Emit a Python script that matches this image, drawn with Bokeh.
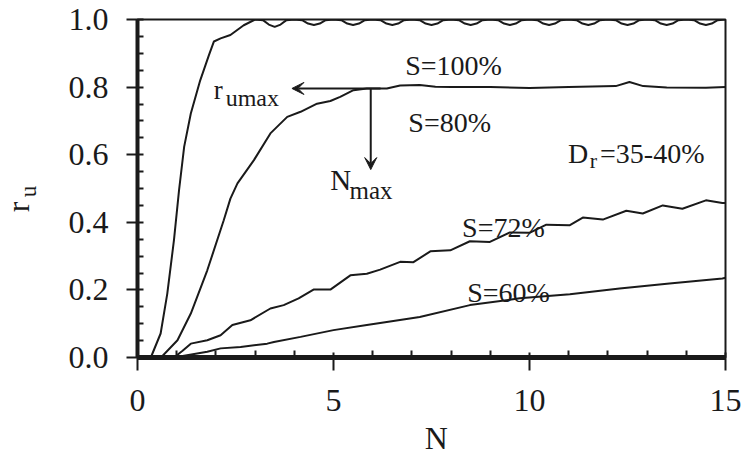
from bokeh.plotting import figure
from bokeh.models import (Range1d, FixedTicker, Label, Arrow, VeeHead,
                          PrintfTickFormatter)
from bokeh.embed import file_html
from bokeh.resources import INLINE

# ---------------- data ----------------
s100_n = [0.0, 0.34, 0.59, 0.76, 0.93, 1.06, 1.19, 1.36, 1.6, 1.82, 1.95, 2.12,
          2.37, 2.71, 3.0,
          3.2, 3.35, 3.5, 3.65, 3.8, 4.0,
          4.2, 4.35, 4.5, 4.65, 4.8, 5.0,
          5.2, 5.35, 5.5, 5.65, 5.8, 6.0,
          6.2, 6.35, 6.5, 6.65, 6.8, 7.0,
          7.2, 7.35, 7.5, 7.65, 7.8, 8.0,
          8.2, 8.35, 8.5, 8.65, 8.8, 9.0,
          9.2, 9.35, 9.5, 9.65, 9.8, 10.0,
          10.2, 10.35, 10.5, 10.65, 10.8, 11.0,
          11.2, 11.35, 11.5, 11.65, 11.8, 12.0,
          12.2, 12.35, 12.5, 12.65, 12.8, 13.0,
          13.2, 13.35, 13.5, 13.65, 13.8, 14.0,
          14.2, 14.35, 14.5, 14.65, 14.8, 15.0]
s100_ru = [0.0, 0.0, 0.071, 0.189, 0.347, 0.495, 0.623, 0.722, 0.82, 0.894,
           0.935, 0.944, 0.954, 0.983, 1.0,
           0.998, 0.985, 0.978, 0.985, 0.998, 1.0,
           0.998, 0.988, 0.984, 0.988, 0.998, 1.0,
           0.998, 0.988, 0.984, 0.988, 0.998, 1.0,
           0.998, 0.988, 0.984, 0.988, 0.998, 1.0,
           0.998, 0.988, 0.984, 0.988, 0.998, 1.0,
           0.998, 0.988, 0.984, 0.988, 0.998, 1.0,
           0.998, 0.988, 0.984, 0.988, 0.998, 1.0,
           0.998, 0.988, 0.984, 0.988, 0.998, 1.0,
           0.998, 0.988, 0.984, 0.988, 0.998, 1.0,
           0.998, 0.988, 0.984, 0.988, 0.998, 1.0,
           0.998, 0.988, 0.984, 0.988, 0.998, 1.0,
           0.998, 0.988, 0.984, 0.988, 0.998, 1.0]

s80_n = [0.0, 0.6, 1.02, 1.36, 1.78, 2.2, 2.37, 2.55, 2.97, 3.39, 3.82, 4.16,
         4.58, 4.92, 5.17, 5.51, 5.85, 6.36, 6.7, 7.2, 7.6, 8.0, 9.0, 10.0,
         11.0, 12.2, 12.55, 12.9, 13.5, 14.5, 15.0]
s80_ru = [0.0, 0.0, 0.051, 0.13, 0.258, 0.406, 0.47, 0.515, 0.584, 0.663,
          0.712, 0.727, 0.751, 0.759, 0.771, 0.791, 0.796, 0.796, 0.805,
          0.806, 0.801, 0.800, 0.800, 0.797, 0.800, 0.803, 0.815, 0.803,
          0.799, 0.798, 0.800]

s72_n = [0.0, 0.93, 1.15, 1.36, 1.78, 2.12, 2.42, 2.88, 3.39, 3.73, 4.11,
         4.49, 4.92, 5.43, 5.85, 6.19, 6.7, 7.04, 7.47, 7.98, 8.48, 8.99,
         9.5, 10.0, 10.43, 11.02, 11.36, 11.87, 12.47, 12.89, 13.4, 13.9,
         14.5, 14.92, 15.0]
s72_ru = [0.0, 0.0, 0.02, 0.041, 0.051, 0.066, 0.096, 0.11, 0.145, 0.155,
          0.175, 0.201, 0.201, 0.243, 0.248, 0.26, 0.283, 0.282, 0.314,
          0.317, 0.344, 0.342, 0.37, 0.369, 0.393, 0.391, 0.414, 0.408,
          0.434, 0.426, 0.45, 0.44, 0.465, 0.457, 0.457]

s60_n = [0.0, 0.93, 1.78, 2.12, 2.63, 3.31, 3.48, 4.16, 5.0, 5.85, 6.19, 7.2,
         8.48, 9.75, 11.03, 12.3, 13.57, 14.92, 15.0]
s60_ru = [0.0, 0.0, 0.017, 0.027, 0.031, 0.041, 0.046, 0.061, 0.081, 0.096,
          0.102, 0.12, 0.155, 0.175, 0.187, 0.204, 0.219, 0.234, 0.236]

x_major = [0, 5, 10, 15]
x_minor = [1, 2, 3, 4, 6, 7, 8, 9, 11, 12, 13, 14]
y_major = [0.0, 0.2, 0.4, 0.6, 0.8, 1.0]
y_minor = [0.05, 0.1, 0.15, 0.25, 0.3, 0.35, 0.45, 0.5, 0.55, 0.65, 0.7,
           0.75, 0.85, 0.9, 0.95]

x_title = "N"
series_labels = ["S=100%", "S=80%", "S=72%", "S=60%"]

# ---------------- figure ----------------
FONT = "Liberation Serif"
INK = "#1a1a1a"

p = figure(width=748, height=454, output_backend="svg", toolbar_location=None,
           x_range=Range1d(0, 15), y_range=Range1d(0, 1),
           min_border_left=137, min_border_right=23, min_border_top=19,
           min_border_bottom=97)
p.grid.visible = False
p.background_fill_color = "white"
p.border_fill_color = "white"
p.outline_line_color = INK
p.outline_line_width = 2
p.outline_line_alpha = 1.0

p.xaxis.ticker = FixedTicker(ticks=x_major, minor_ticks=x_minor)
p.yaxis.ticker = FixedTicker(ticks=y_major, minor_ticks=y_minor)
p.yaxis.formatter = PrintfTickFormatter(format="%.1f")

for ax in (p.xaxis, p.yaxis):
    ax.axis_line_color = INK
    ax.major_tick_line_color = INK
    ax.minor_tick_line_color = INK
    ax.major_tick_line_width = 2
    ax.minor_tick_line_width = 2
    ax.major_label_text_font = FONT
    ax.major_label_text_font_size = "32px"
    ax.major_label_text_color = INK

p.xaxis.axis_line_width = 5
p.xaxis.major_tick_out = 13
p.xaxis.major_tick_in = 5
p.xaxis.minor_tick_in = 7
p.xaxis.minor_tick_out = 0
p.xaxis.major_label_standoff = 19

p.yaxis.axis_line_width = 4
p.yaxis.major_tick_out = 11
p.yaxis.major_tick_in = 6
p.yaxis.minor_tick_in = 6
p.yaxis.minor_tick_out = 0
p.yaxis.major_label_standoff = 18

# curves
for xs, ys in ((s100_n, s100_ru), (s80_n, s80_ru), (s72_n, s72_ru),
               (s60_n, s60_ru)):
    p.line(xs, ys, line_color=INK, line_width=2)

# arrows (r_umax and N_max)
head = dict(size=12, fill_color=INK, line_color=INK, line_width=1)
p.add_layout(Arrow(end=VeeHead(**head), x_start=6.2, y_start=0.796,
                   x_end=3.94, y_end=0.796, line_color=INK, line_width=2))
p.add_layout(Arrow(end=VeeHead(**head), x_start=5.95, y_start=0.796,
                   x_end=5.95, y_end=0.556, line_color=INK, line_width=2))


def lab(x, y, t, size, angle=0.0, align="left", side="center"):
    p.add_layout(Label(x=x, y=y, text=t, text_font=FONT,
                       text_font_size=f"{size}px", text_color=INK,
                       text_align=align, text_baseline="alphabetic",
                       angle=angle), side)


# series labels
lab(6.83, 0.865, series_labels[0], 28)
lab(6.91, 0.696, series_labels[1], 28)
lab(8.28, 0.386, series_labels[2], 28)
lab(8.41, 0.193, series_labels[3], 28)

# D_r=35-40%
lab(10.98, 0.604, "D", 28)
lab(11.54, 0.584, "r", 22)
lab(11.80, 0.604, "=35-40%", 28)

# r_umax
lab(1.946, 0.791, "r", 27)
lab(2.25, 0.767, "umax", 24)

# N_max
lab(4.92, 0.525, "N", 29)
lab(5.41, 0.495, "max", 25)

# x-axis title (outside the frame, in the bottom panel)
lab(7.62, -0.238, x_title, 32, align="center", side="below")

# y-axis title r_u (rotated, in the left panel)
lab(-3.05, 0.43, "r", 32, angle=1.5707963, side="left")
lab(-2.78, 0.474, "u", 23, angle=1.5707963, side="left")

open("out.html", "w").write(file_html(p, INLINE))
